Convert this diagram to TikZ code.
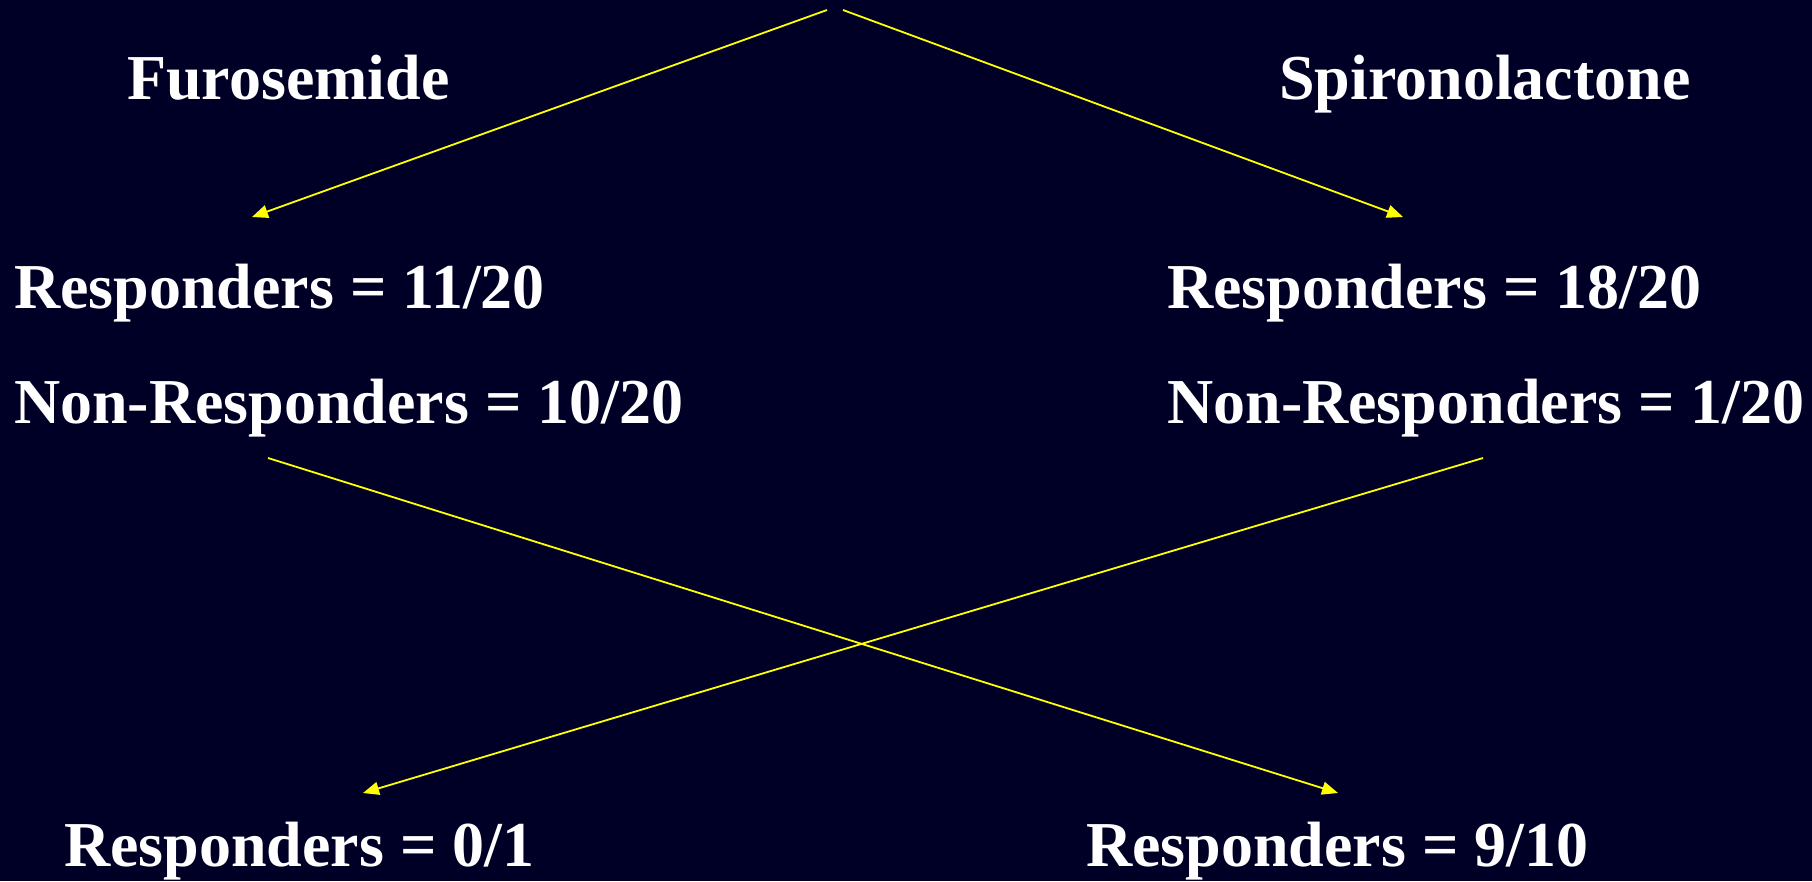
\documentclass[tikz,border=0pt]{standalone}
\usepackage{fontspec}
\setmainfont{Liberation Serif}
\usetikzlibrary{arrows.meta}
\definecolor{bgnavy}{RGB}{0,0,38}
\definecolor{arrowyellow}{RGB}{255,255,0}
\begin{document}
\begin{tikzpicture}[x=1pt,y=-1pt,
  lbl/.style={anchor=base west,inner sep=0pt,text=white,font=\fontsize{64}{64}\selectfont\bfseries},
  conn/.style={draw=arrowyellow,line width=1.8pt,-{Triangle[length=16pt,width=13pt]},arrowyellow}]
\useasboundingbox (0,0) rectangle (1812,881);
\fill[bgnavy] (0,0) rectangle (1812,881);
\node[lbl] (furo) at (127,99) {Furosemide};
\node[lbl] (spiro) at (1279,99) {Spironolactone};
\node[lbl] (fr) at (14,308) {Responders = 11/20};
\node[lbl] (fnr) at (14,423) {Non-Responders = 10/20};
\node[lbl] (sr) at (1167,308) {Responders = 18/20};
\node[lbl] (snr) at (1167,423) {Non-Responders = 1/20};
\node[lbl] (br1) at (64,866) {Responders = 0/1};
\node[lbl] (br2) at (1086,866) {Responders = 9/10};
\coordinate (topL) at (827,10);
\coordinate (topR) at (843,10);
\coordinate (tipL) at (252,217);
\coordinate (tipR) at (1403,217);
\coordinate (startA) at (268,458);
\coordinate (startB) at (1483,458);
\coordinate (tipB) at (363,793);
\coordinate (tipA) at (1338,793);
\draw[conn] (topL) -- (tipL);
\draw[conn] (topR) -- (tipR);
\draw[conn] (startA) -- (tipA);
\draw[conn] (startB) -- (tipB);
\end{tikzpicture}
\end{document}
